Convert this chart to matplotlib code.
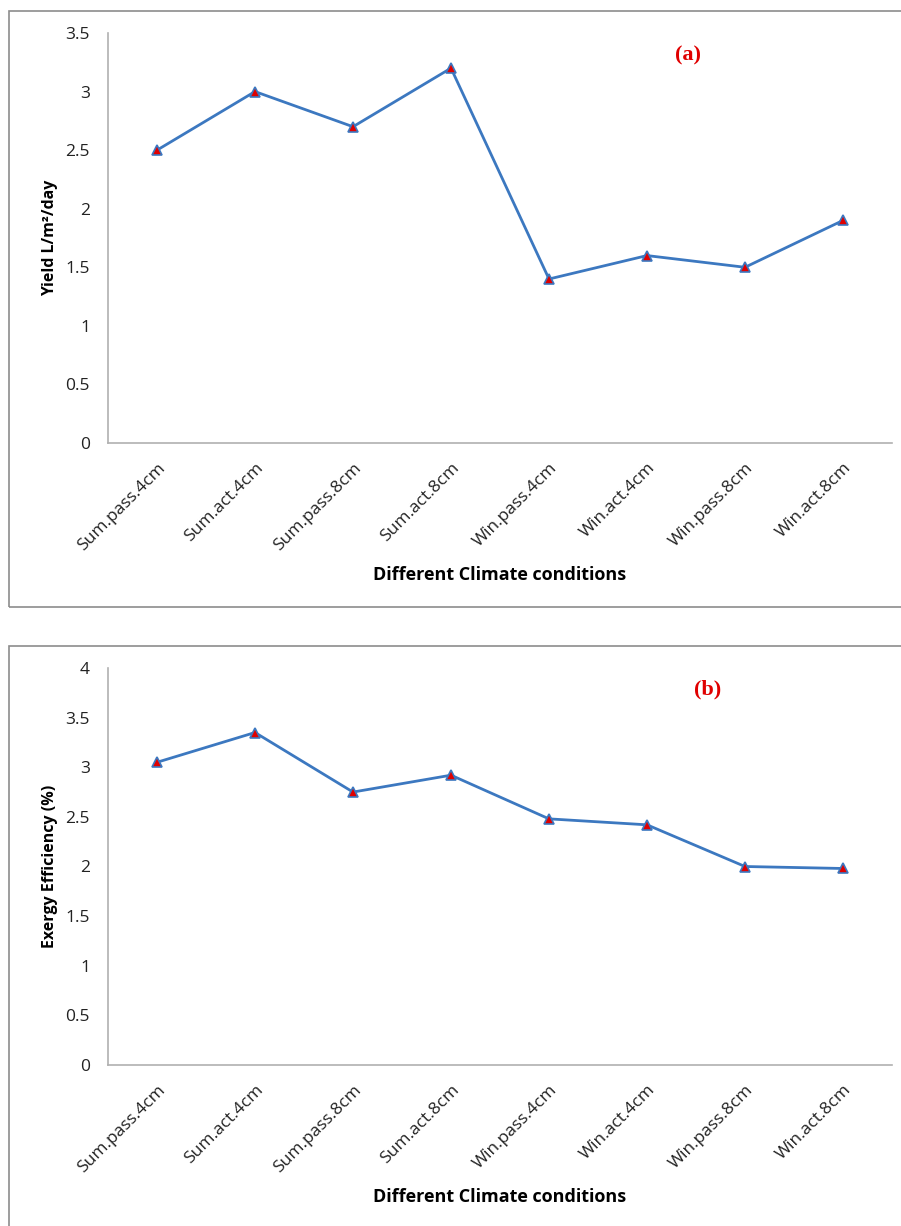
import numpy as np
import matplotlib.pyplot as plt
from matplotlib.patches import Rectangle

# data
conditions = ['Sum.pass.4cm', 'Sum.act.4cm', 'Sum.pass.8cm', 'Sum.act.8cm',
              'Win.pass.4cm', 'Win.act.4cm', 'Win.pass.8cm', 'Win.act.8cm']
yield_vals = [2.5, 3.0, 2.7, 3.2, 1.4, 1.6, 1.5, 1.9]
exergy_vals = [3.05, 3.35, 2.75, 2.92, 2.48, 2.42, 2.0, 1.98]

plt.rcParams['font.family'] = ['Open Sans', 'DejaVu Sans']

fig = plt.figure(figsize=(9.01, 12.26), dpi=100)
W, H = 901.0, 1226.0

# outer chart frames
fig.patches.append(Rectangle((9 / W, 1 - 607 / H), 900 / W, (607 - 11) / H,
                             transform=fig.transFigure, fill=False,
                             edgecolor='#8c8c8c', lw=1.2))
fig.patches.append(Rectangle((9 / W, 1 - 1240 / H), 900 / W, (1240 - 646) / H,
                             transform=fig.transFigure, fill=False,
                             edgecolor='#8c8c8c', lw=1.2))

ax1 = fig.add_axes([108 / W, 1 - 443 / H, 784 / W, 410 / H])
ax2 = fig.add_axes([108 / W, 1 - 1065 / H, 784 / W, 397 / H])

x = np.arange(len(conditions))


def style(ax, vals, ymax, ylabel, tag, tagx):
    ax.plot(x, vals, color='#3c78c0', lw=2.0, marker='^', markersize=7,
            markerfacecolor='#e00000', markeredgecolor='#3c78c0',
            markeredgewidth=1.2)
    ax.set_xlim(-0.5, 7.5)
    ax.set_ylim(0, ymax)
    ax.set_yticks(np.arange(0, ymax + 0.01, 0.5))
    ax.set_yticklabels(['%g' % v for v in np.arange(0, ymax + 0.01, 0.5)])
    ax.set_xticks(x)
    ax.set_xticklabels(conditions, rotation=45, ha='right',
                       rotation_mode='anchor')
    ax.tick_params(length=0, labelsize=12.5, colors='#222222', pad=12)
    ax.tick_params(axis='y', pad=13)
    for s in ['top', 'right']:
        ax.spines[s].set_visible(False)
    for s in ['left', 'bottom']:
        ax.spines[s].set_color('#b0b0b0')
        ax.spines[s].set_linewidth(1.2)
    ax.set_ylabel(ylabel, fontsize=11.5, fontweight='bold', labelpad=5)
    ax.set_xlabel('Different Climate conditions', fontsize=13,
                  fontweight='bold', labelpad=9)
    ax.text(tagx, 0.97, tag, transform=ax.transAxes, color='#e00000',
            fontsize=16, fontweight='bold', family='Liberation Serif',
            ha='center', va='top')


style(ax1, yield_vals, 3.5, 'Yield L/m\u00b2/day', '(a)', (688 - 108) / 784)
style(ax2, exergy_vals, 4.0, 'Exergy Efficiency (%)', '(b)', (708 - 108) / 784)

fig.savefig('out.png', dpi=100)
